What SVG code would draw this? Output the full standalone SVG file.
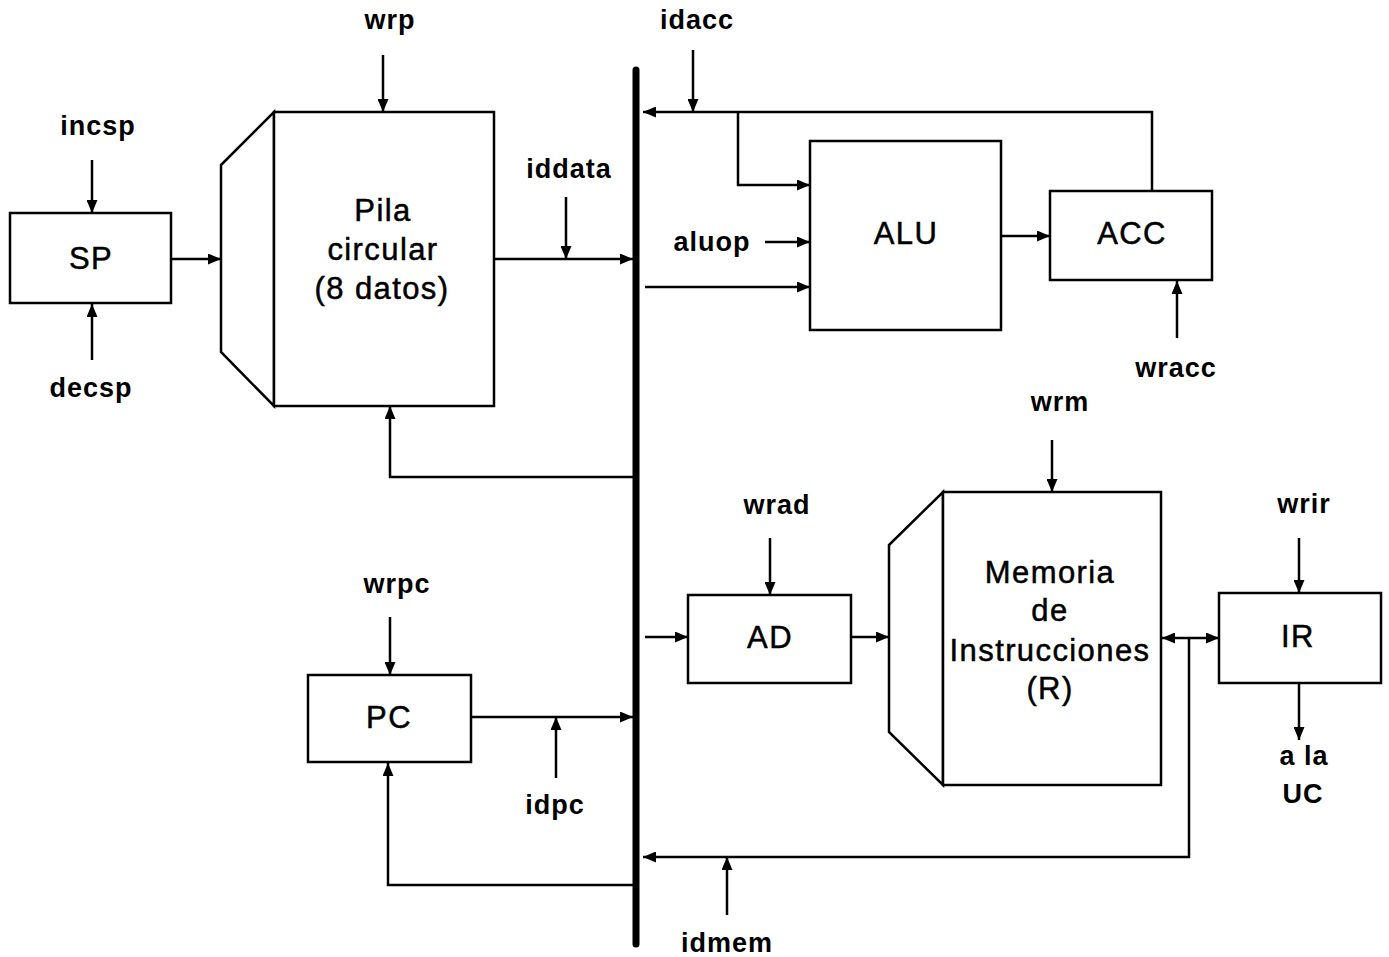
<svg xmlns="http://www.w3.org/2000/svg" width="1389" height="957" viewBox="0 0 1389 957">
<defs>
<style>
.box{fill:#fff;stroke:#000;stroke-width:2.5}
.w{fill:none;stroke:#000;stroke-width:2.5}
.t{font-family:"Liberation Sans",Arial,sans-serif;font-size:31px;fill:#000;stroke:#000;stroke-width:0.5;text-anchor:middle;letter-spacing:1.4px}
.l{font-family:"Liberation Sans",Arial,sans-serif;font-size:27px;font-weight:bold;fill:#000;text-anchor:middle;letter-spacing:1px}
</style>
<marker id="a" viewBox="0 0 13 11" refX="13" refY="5.5" markerWidth="13" markerHeight="11" markerUnits="userSpaceOnUse" orient="auto-start-reverse">
<path d="M0,0 L13,5.5 L0,11 Z" fill="#000"/>
</marker>
</defs>
<rect width="1389" height="957" fill="#fff"/>

<g id="connectors">
<line x1="636" y1="70" x2="636" y2="944" stroke="#000" stroke-width="7" stroke-linecap="round"/>
<line class="w" x1="92" y1="160" x2="92" y2="213" marker-end="url(#a)"/>
<line class="w" x1="92" y1="360" x2="92" y2="304" marker-end="url(#a)"/>
<line class="w" x1="171" y1="259" x2="221" y2="259" marker-end="url(#a)"/>
<line class="w" x1="383" y1="55" x2="383" y2="112" marker-end="url(#a)"/>
<line class="w" x1="494" y1="259" x2="633" y2="259" marker-end="url(#a)"/>
<line class="w" x1="566" y1="197" x2="566" y2="259" marker-end="url(#a)"/>
<polyline class="w" points="633,477 390,477 390,406" marker-end="url(#a)"/>
<line class="w" x1="693" y1="50" x2="693" y2="112" marker-end="url(#a)"/>
<polyline class="w" points="1152,191 1152,112 643,112" marker-end="url(#a)"/>
<polyline class="w" points="738,112 738,185 810,185" marker-end="url(#a)"/>
<line class="w" x1="765" y1="242" x2="810" y2="242" marker-end="url(#a)"/>
<line class="w" x1="645" y1="287" x2="810" y2="287" marker-end="url(#a)"/>
<line class="w" x1="1001" y1="236" x2="1050" y2="236" marker-end="url(#a)"/>
<line class="w" x1="1177" y1="338" x2="1177" y2="281" marker-end="url(#a)"/>
<line class="w" x1="770" y1="538" x2="770" y2="595" marker-end="url(#a)"/>
<line class="w" x1="645" y1="637" x2="688" y2="637" marker-end="url(#a)"/>
<line class="w" x1="851" y1="637" x2="889" y2="637" marker-end="url(#a)"/>
<line class="w" x1="1052" y1="440" x2="1052" y2="492" marker-end="url(#a)"/>
<line class="w" x1="1162" y1="638" x2="1219" y2="638" marker-start="url(#a)" marker-end="url(#a)"/>
<polyline class="w" points="1189,638 1189,857 643,857" marker-end="url(#a)"/>
<line class="w" x1="727" y1="915" x2="727" y2="857" marker-end="url(#a)"/>
<line class="w" x1="1299" y1="538" x2="1299" y2="593" marker-end="url(#a)"/>
<line class="w" x1="1299" y1="683" x2="1299" y2="740" marker-end="url(#a)"/>
<line class="w" x1="390" y1="617" x2="390" y2="675" marker-end="url(#a)"/>
<line class="w" x1="471" y1="717" x2="633" y2="717" marker-end="url(#a)"/>
<line class="w" x1="556" y1="778" x2="556" y2="717" marker-end="url(#a)"/>
<polyline class="w" points="633,885 388,885 388,763" marker-end="url(#a)"/>
</g>

<g id="SP">
<rect class="box" x="10" y="213" width="161" height="90"/>
<text class="t" x="91" y="269">SP</text>
</g>
<g id="Pila">
<polygon class="box" points="221,165 274,112 274,406 221,352"/>
<rect class="box" x="274" y="112" width="220" height="294"/>
<text class="t" x="383" y="221">Pila</text>
<text class="t" x="383" y="260">circular</text>
<text class="t" x="382" y="299">(8 datos)</text>
</g>
<g id="ALU">
<rect class="box" x="810" y="141" width="191" height="189"/>
<text class="t" x="906" y="244">ALU</text>
</g>
<g id="ACC">
<rect class="box" x="1050" y="191" width="162" height="89"/>
<text class="t" x="1132" y="244">ACC</text>
</g>
<g id="AD">
<rect class="box" x="688" y="595" width="163" height="88"/>
<text class="t" x="770" y="648">AD</text>
</g>
<g id="Memoria">
<polygon class="box" points="889,545 943,492 943,785 889,732"/>
<rect class="box" x="943" y="492" width="218" height="293"/>
<text class="t" x="1050" y="583">Memoria</text>
<text class="t" x="1050" y="621">de</text>
<text class="t" x="1050" y="661">Instrucciones</text>
<text class="t" x="1050" y="699">(R)</text>
</g>
<g id="IR">
<rect class="box" x="1219" y="593" width="162" height="90"/>
<text class="t" x="1298" y="647">IR</text>
</g>
<g id="PC">
<rect class="box" x="308" y="675" width="163" height="87"/>
<text class="t" x="389" y="728">PC</text>
</g>

<g id="labels">
<text class="l" x="390" y="29">wrp</text>
<text class="l" x="98" y="135">incsp</text>
<text class="l" x="91" y="397">decsp</text>
<text class="l" x="569" y="178">iddata</text>
<text class="l" x="697" y="29">idacc</text>
<text class="l" x="712" y="251">aluop</text>
<text class="l" x="1176" y="377">wracc</text>
<text class="l" x="1060" y="411">wrm</text>
<text class="l" x="777" y="514">wrad</text>
<text class="l" x="1304" y="513">wrir</text>
<text class="l" x="397" y="593">wrpc</text>
<text class="l" x="555" y="814">idpc</text>
<text class="l" x="727" y="952">idmem</text>
<text class="l" x="1304" y="765">a la</text>
<text class="l" x="1303" y="803">UC</text>
</g>
</svg>
